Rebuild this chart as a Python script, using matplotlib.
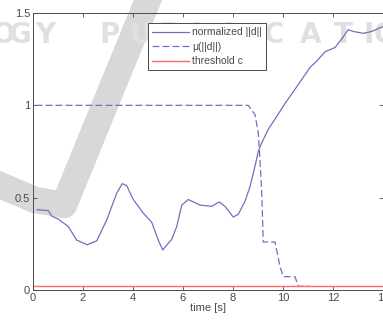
import matplotlib
matplotlib.use("Agg")
import matplotlib.pyplot as plt
from matplotlib.lines import Line2D

# normalized ||d||
t_norm = [0.17, 0.61, 0.75, 1.01, 1.41, 1.75, 2.17, 2.55, 2.95, 3.35, 3.57, 3.75,
          4.01, 4.41, 4.75, 5.01, 5.19, 5.55, 5.75, 5.95, 6.21, 6.68, 7.15, 7.45,
          7.68, 8.01, 8.21, 8.48, 8.68, 8.88, 9.01, 9.15, 9.41, 9.75, 10.08, 10.48,
          11.08, 11.35, 11.68, 12.08, 12.35, 12.61, 12.81, 13.21, 13.55, 13.88, 14.0]
d_norm = [0.435, 0.43, 0.40, 0.384, 0.344, 0.27, 0.245, 0.266, 0.38, 0.525, 0.576, 0.565,
          0.49, 0.417, 0.366, 0.27, 0.217, 0.275, 0.344, 0.46, 0.49, 0.46, 0.453, 0.477,
          0.453, 0.395, 0.41, 0.48, 0.56, 0.67, 0.75, 0.797, 0.87, 0.94, 1.01, 1.087,
          1.205, 1.24, 1.29, 1.313, 1.36, 1.41, 1.40, 1.39, 1.40, 1.42, 1.425]

# mu(||d||)
t_mu = [0.1, 8.61, 8.88, 9.01, 9.08, 9.15, 9.21, 9.68, 9.88, 10.01, 10.48, 10.61, 11.08]
mu = [1.0, 1.0, 0.95, 0.85, 0.70, 0.525, 0.26, 0.26, 0.127, 0.072, 0.072, 0.02, 0.02]

# threshold c
t_thr = [0.0, 14.0]
thr = [0.02, 0.02]

xticks = [0, 2, 4, 6, 8, 10, 12, 14]
yticks = [0, 0.5, 1, 1.5]

plt.rcParams['font.family'] = ['Liberation Sans', 'DejaVu Sans']

fig = plt.figure(figsize=(3.83, 3.2), dpi=100)

# faint publisher watermark behind the plot
wm_letters = list("OGYPUBLICATIO")
wm_x = [-8, 9, 35, 99, 129, 160, 192, 224, 264, 300, 334, 364, 374]
for ch, px in zip(wm_letters, wm_x):
    fig.text(px / 383, 1 - 43 / 320, ch, fontsize=20, fontweight='bold',
             color='#e0e0e0', family='DejaVu Sans', zorder=-2)
slash = Line2D([150 / 383, 64 / 383, 35 / 383, -5 / 383],
               [1 + 5 / 320, 1 - 205 / 320, 1 - 200 / 320, 1 - 183 / 320],
               transform=fig.transFigure, color='#d8d8d8', lw=19,
               solid_joinstyle='round', zorder=-2)
fig.add_artist(slash)

ax = fig.add_axes([33 / 383, 30 / 320, 350 / 383, 277 / 320])
ax.set_zorder(1)
ax.patch.set_alpha(0)

ax.plot(t_norm, d_norm, color='#7070c2', lw=0.9, label='normalized ||d||')
ax.plot(t_mu, mu, color='#7070c2', lw=0.9, ls=(0, (5.5, 2.5)), label='μ(||d||)')
ax.plot(t_thr, thr, color='#ff6a6a', lw=1.0, label='threshold c')

ax.set_xlim(0, 14)
ax.set_ylim(0, 1.5)
ax.set_xticks(xticks)
ax.set_yticks(yticks)
ax.set_yticklabels(['0', '0.5', '1', '1.5'])
ax.tick_params(direction='in', top=True, right=True, length=3, width=0.6,
               labelsize=8, colors='#4a4a4a', pad=2)
for s in ax.spines.values():
    s.set_linewidth(0.7)
    s.set_color('#4a4a4a')
ax.set_xlabel('time [s]', fontsize=8, color='#4a4a4a', labelpad=0)

leg = ax.legend(loc='upper left', bbox_to_anchor=(0.329, 0.963), fontsize=7.5,
                frameon=True, fancybox=False, handlelength=3.5, borderpad=0.4,
                labelspacing=0.42, handletextpad=0.3, borderaxespad=0)
leg.get_frame().set_edgecolor('#4a4a4a')
leg.get_frame().set_linewidth(0.7)
leg.get_frame().set_alpha(1)
for txt in leg.get_texts():
    txt.set_color('#4a4a4a')

fig.savefig('out.png', dpi=100)
